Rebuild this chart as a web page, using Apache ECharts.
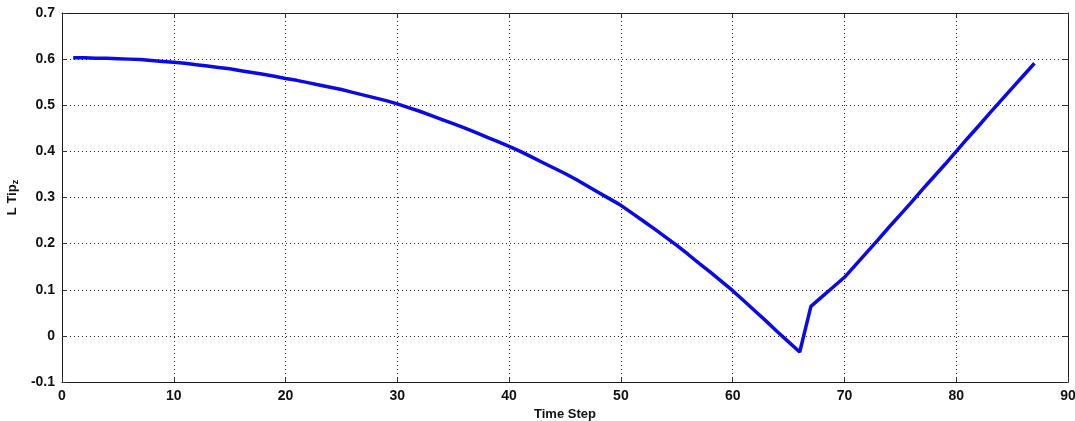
<!DOCTYPE html>
<html>
<head>
<meta charset="utf-8">
<script src="https://cdn.jsdelivr.net/npm/echarts@6/dist/echarts.min.js"></script>
<style>html,body{margin:0;padding:0;background:#fff}#c{width:1075px;height:421px}</style>
</head>
<body>
<div id="c"></div>
<script>
const timeSteps = [];
for (let i = 1; i <= 87; i++) timeSteps.push(i);
const tipZ = [
  0.603, 0.603, 0.602, 0.602, 0.601, 0.600, 0.599, 0.597, 0.595, 0.593,
  0.591, 0.588, 0.585, 0.582, 0.579, 0.575, 0.571, 0.567, 0.563, 0.558,
  0.554, 0.549, 0.544, 0.539, 0.534, 0.528, 0.522, 0.516, 0.510, 0.503,
  0.495, 0.487, 0.478, 0.469, 0.460, 0.451, 0.441, 0.431, 0.421, 0.411,
  0.400, 0.388, 0.376, 0.364, 0.352, 0.339, 0.325, 0.311, 0.297, 0.283,
  0.266, 0.249, 0.232, 0.214, 0.196, 0.177, 0.157, 0.138, 0.118, 0.098,
  0.076, 0.054, 0.032, 0.009, -0.013, -0.035,
  0.064, 0.085, 0.106, 0.127, 0.154, 0.181, 0.208, 0.236, 0.263, 0.290,
  0.318, 0.345, 0.372, 0.400, 0.428, 0.455, 0.483, 0.510, 0.537, 0.564,
  0.591
];
const xAxisName = 'Time Step';
const yAxisName = 'L Tip';
const yAxisSub = 'z';

const font = 'Liberation Sans, Arial, sans-serif';
const axisCommon = {
  axisLine: { show: true, onZero: false, lineStyle: { color: '#1a1a1a', width: 1 } },
  axisTick: { show: true, inside: true, length: 5, lineStyle: { color: '#333' } },
};
const chart = echarts.init(document.getElementById('c'), null, { renderer: 'canvas' });
chart.setOption({
  animation: false,
  backgroundColor: '#ffffff',
  grid: { left: 62, right: 7, top: 13, bottom: 39, containLabel: false, outerBoundsMode: 'none' },
  xAxis: [
    Object.assign({
      type: 'value', min: 0, max: 90, interval: 10, position: 'bottom',
      name: xAxisName, nameLocation: 'middle', nameGap: 22,
      nameTextStyle: { fontFamily: font, fontWeight: 'bold', fontSize: 13, color: '#111' },
      axisLabel: { fontFamily: font, fontWeight: 'bold', fontSize: 14, color: '#111', margin: 7 },
      splitLine: { show: true, lineStyle: { color: '#222', type: [1, 3], width: 1 } }
    }, axisCommon),
    Object.assign({
      type: 'value', min: 0, max: 90, interval: 10, position: 'top',
      axisLabel: { show: false }, splitLine: { show: false }
    }, axisCommon)
  ],
  yAxis: [
    Object.assign({
      type: 'value', min: -0.1, max: 0.7, interval: 0.1, position: 'left',
      name: '{a|' + yAxisName + '}{b|' + yAxisSub + '}', nameLocation: 'middle', nameGap: 40,
      nameRotate: 90,
      nameTextStyle: {
        rich: {
          a: { fontFamily: font, fontWeight: 'bold', fontSize: 13, color: '#111', lineHeight: 16 },
          b: { fontFamily: font, fontWeight: 'bold', fontSize: 9, color: '#111', verticalAlign: 'bottom', lineHeight: 16, padding: [8, 0, 0, 0] }
        }
      },
      axisLabel: {
        fontFamily: font, fontWeight: 'bold', fontSize: 14, color: '#111', margin: 7,
        formatter: v => String(parseFloat(v.toFixed(1)))
      },
      splitLine: { show: true, lineStyle: { color: '#222', type: [1, 3], width: 1 } }
    }, axisCommon),
    Object.assign({
      type: 'value', min: -0.1, max: 0.7, interval: 0.1, position: 'right',
      axisLabel: { show: false }, splitLine: { show: false }
    }, axisCommon)
  ],
  series: [{
    type: 'line',
    xAxisIndex: 0, yAxisIndex: 0,
    data: timeSteps.map((t, i) => [t, tipZ[i]]),
    showSymbol: false,
    lineStyle: { color: '#0a0ae6', width: 3.5 },
    itemStyle: { color: '#0a0ae6' }
  }]
});
</script>
</body>
</html>
